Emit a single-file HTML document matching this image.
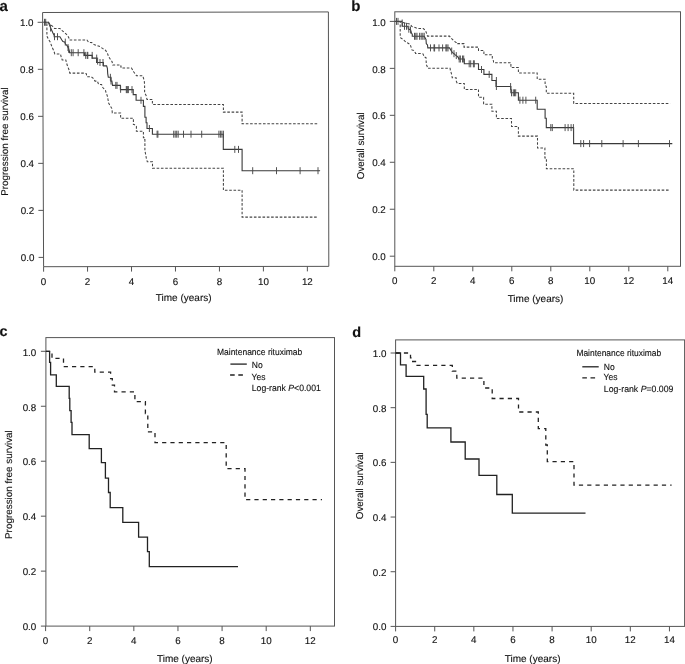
<!DOCTYPE html>
<html><head><meta charset="utf-8"><style>
html,body{margin:0;padding:0;background:#fff;width:685px;height:664px;overflow:hidden}
svg{filter:grayscale(100%)}
text{font-family:"Liberation Sans", sans-serif;stroke:#111;stroke-width:0.12px;text-rendering:geometricPrecision}
</style></head><body>
<svg width="685" height="664" viewBox="0 0 685 664" style="display:block">
<rect width="685" height="664" fill="#fff"/>
<g font-family='"Liberation Sans", sans-serif'>
<path d="M42.6 12.5L328.4 11.93L328.8 266.36L43.6 266.7Z" fill="none" stroke="#555" stroke-width="1"/>
<line x1="38.58" y1="257.4" x2="43.58" y2="257.4" stroke="#555" stroke-width="1"/>
<text x="34.47" y="261.3" font-size="9.8" text-anchor="end" fill="#111">0.0</text>
<line x1="38.39" y1="210.38" x2="43.39" y2="210.38" stroke="#555" stroke-width="1"/>
<text x="34.28" y="214.28" font-size="9.8" text-anchor="end" fill="#111">0.2</text>
<line x1="38.2" y1="163.36" x2="43.2" y2="163.36" stroke="#555" stroke-width="1"/>
<text x="34.09" y="167.26" font-size="9.8" text-anchor="end" fill="#111">0.4</text>
<line x1="38.02" y1="116.34" x2="43.02" y2="116.34" stroke="#555" stroke-width="1"/>
<text x="33.91" y="120.24" font-size="9.8" text-anchor="end" fill="#111">0.6</text>
<line x1="37.83" y1="69.32" x2="42.83" y2="69.32" stroke="#555" stroke-width="1"/>
<text x="33.72" y="73.22" font-size="9.8" text-anchor="end" fill="#111">0.8</text>
<line x1="37.64" y1="22.3" x2="42.64" y2="22.3" stroke="#555" stroke-width="1"/>
<text x="33.53" y="26.2" font-size="9.8" text-anchor="end" fill="#111">1.0</text>
<line x1="43.6" y1="266.7" x2="43.6" y2="271.7" stroke="#555" stroke-width="1"/>
<text x="43.6" y="284.7" font-size="9.8" text-anchor="middle" fill="#111">0</text>
<line x1="87.56" y1="266.64" x2="87.56" y2="271.64" stroke="#555" stroke-width="1"/>
<text x="87.56" y="284.7" font-size="9.8" text-anchor="middle" fill="#111">2</text>
<line x1="131.52" y1="266.59" x2="131.52" y2="271.59" stroke="#555" stroke-width="1"/>
<text x="131.52" y="284.7" font-size="9.8" text-anchor="middle" fill="#111">4</text>
<line x1="175.48" y1="266.54" x2="175.48" y2="271.54" stroke="#555" stroke-width="1"/>
<text x="175.48" y="284.7" font-size="9.8" text-anchor="middle" fill="#111">6</text>
<line x1="219.44" y1="266.49" x2="219.44" y2="271.49" stroke="#555" stroke-width="1"/>
<text x="219.44" y="284.7" font-size="9.8" text-anchor="middle" fill="#111">8</text>
<line x1="263.4" y1="266.43" x2="263.4" y2="271.43" stroke="#555" stroke-width="1"/>
<text x="263.4" y="284.7" font-size="9.8" text-anchor="middle" fill="#111">10</text>
<line x1="307.36" y1="266.38" x2="307.36" y2="271.38" stroke="#555" stroke-width="1"/>
<text x="307.36" y="284.7" font-size="9.8" text-anchor="middle" fill="#111">12</text>
<text x="183.7" y="301.3" font-size="10" text-anchor="middle" font-weight="normal" fill="#111">Time (years)</text>
<text transform="translate(7.9 141.55) rotate(-90)" x="0" y="0" font-size="9.8" text-anchor="middle" fill="#111" textLength="108.5" lengthAdjust="spacingAndGlyphs">Progression free survival</text>
<text x="-0.4" y="10.7" font-size="15" text-anchor="start" font-weight="bold" fill="#111">a</text>
<path d="M43.6 22.3H48.4L50.5 27.6L52.7 32.5L54.2 35.5V36.7H59.9L61.7 39.7L62.9 41.5L64.6 41.9L65.5 44.2L67.1 45.7L68.6 48.5L69.5 51.5V52.7H84.4V55.4H92.2V58.1H96.6V62.5H103.4V65.9H106.6L107.4 68.3L107.7 73.6L108.3 77.3H110.9V81.1H111.9L112.5 85.4H120.4V89.6H133.2V94.6H136.1V100.3H143.4V106.4H144.9V117.2H146.1V122.7H147V128.5H152.4V134.2H223.3V149.4H242.1V170.7H320.1" fill="none" stroke="#3a3a3a" stroke-width="1.1" stroke-linecap="butt" stroke-linejoin="miter"/>
<path d="M44.5 18.8V25.8M45.7 18.8V25.8M50.5 24.5V31.5M54.5 33.2V40.2M57.5 33.2V40.2M65.3 38.6V45.6M68 44V51M68.6 45.8V52.8M71.3 49.2V56.2M73.1 49.2V56.2M78.2 49.2V56.2M83.9 49.2V56.2M85.7 51.9V58.9M87.3 51.9V58.9M87.8 51.9V58.9M92.2 51.9V58.9M96.7 54.6V61.6M97.6 57.6V64.6M100 59V66M103 59V66M110.4 73.8V80.8M111 77.5V84.5M115.8 81.9V88.9M117 81.9V88.9M120.6 85.8V92.8M126.3 86.1V93.1M126.9 86.1V93.1M127.8 86.1V93.1M128.3 86.1V93.1M132 86.1V93.1M141 96.8V103.8M149.4 125V132M157.1 130.7V137.7M157.9 130.7V137.7M173.7 130.7V137.7M175.2 130.7V137.7M176.7 130.7V137.7M178.2 130.7V137.7M183.5 130.7V137.7M191 130.7V137.7M201.7 130.7V137.7M218.9 130.7V137.7M220.4 130.7V137.7M221.9 130.7V137.7M223.4 130.7V137.7M234.8 145.9V152.9M238.5 145.9V152.9M252.7 167.2V174.2M276.5 167.2V174.2M300.1 167.2V174.2M318 167.2V174.2" stroke="#4a4a4a" stroke-width="0.95" fill="none"/>
<path d="M43.6 22.3H48.4L50.5 24.6L52.7 26.4L54.5 28.4H59.9L61.7 30.3L64.1 32.2L66.5 34.3L68.3 36.7L69.5 39.1V40H86.9L88.7 42.4H91.6L94 44.5L100 46.6L102.5 48.4L105.5 50.2L107.3 53L108.5 56.3L110.3 59.3L112.1 61.7L112.7 65H120V66H121V68H131.5L133.8 72L136.5 75.8H142.8L144.3 81.1L144.6 85V92.8L146.1 95.5L147 99.4H152.4V104.5H223.4V112.1H242.1V123.7H318" fill="none" stroke="#444" stroke-width="1.05" stroke-linecap="butt" stroke-linejoin="miter" stroke-dasharray="2.6 1.7"/>
<path d="M43.6 22.3H46.9V36.1L48.4 39.1L50.2 42.1L52 46.9L53.9 51.1L54.8 54H60.5L61 56.3L62.2 59.9H65.8L66.7 63.5L67.7 66.5L68.9 69.5L69.8 73.1H84.5L86.3 73.7L86.9 76.7H91.1L93 78L95 81.1H97.4L98.6 84.5H101.6L102.8 87.5L105.5 90.5L106.1 92.9L107.3 95.9L108 99.5L108.6 103.1L110.1 105.5L111.9 108.6L112.3 112.9H120.6V118.3H133.4V124.5H134.3L136.4 126.3V131.3H143.4V137.7H144.6V139.5H144.9V150.5L146.3 158.1L147.3 161.8H152.5V168.2H223.4V190.2H242.1V217.1H318" fill="none" stroke="#444" stroke-width="1.05" stroke-linecap="butt" stroke-linejoin="miter" stroke-dasharray="2.6 1.7"/>
<rect x="394.8" y="11.8" width="285.7" height="254.5" fill="none" stroke="#555" stroke-width="1"/>
<line x1="389.8" y1="256.2" x2="394.8" y2="256.2" stroke="#555" stroke-width="1"/>
<text x="385.8" y="260.35" font-size="9.8" text-anchor="end" fill="#111">0.0</text>
<line x1="389.8" y1="209.24" x2="394.8" y2="209.24" stroke="#555" stroke-width="1"/>
<text x="385.8" y="213.39" font-size="9.8" text-anchor="end" fill="#111">0.2</text>
<line x1="389.8" y1="162.28" x2="394.8" y2="162.28" stroke="#555" stroke-width="1"/>
<text x="385.8" y="166.43" font-size="9.8" text-anchor="end" fill="#111">0.4</text>
<line x1="389.8" y1="115.32" x2="394.8" y2="115.32" stroke="#555" stroke-width="1"/>
<text x="385.8" y="119.47" font-size="9.8" text-anchor="end" fill="#111">0.6</text>
<line x1="389.8" y1="68.36" x2="394.8" y2="68.36" stroke="#555" stroke-width="1"/>
<text x="385.8" y="72.51" font-size="9.8" text-anchor="end" fill="#111">0.8</text>
<line x1="389.8" y1="21.4" x2="394.8" y2="21.4" stroke="#555" stroke-width="1"/>
<text x="385.8" y="25.55" font-size="9.8" text-anchor="end" fill="#111">1.0</text>
<line x1="394.8" y1="266.3" x2="394.8" y2="271.3" stroke="#555" stroke-width="1"/>
<text x="394.8" y="284.3" font-size="9.8" text-anchor="middle" fill="#111">0</text>
<line x1="433.8" y1="266.3" x2="433.8" y2="271.3" stroke="#555" stroke-width="1"/>
<text x="433.8" y="284.3" font-size="9.8" text-anchor="middle" fill="#111">2</text>
<line x1="472.8" y1="266.3" x2="472.8" y2="271.3" stroke="#555" stroke-width="1"/>
<text x="472.8" y="284.3" font-size="9.8" text-anchor="middle" fill="#111">4</text>
<line x1="511.8" y1="266.3" x2="511.8" y2="271.3" stroke="#555" stroke-width="1"/>
<text x="511.8" y="284.3" font-size="9.8" text-anchor="middle" fill="#111">6</text>
<line x1="550.8" y1="266.3" x2="550.8" y2="271.3" stroke="#555" stroke-width="1"/>
<text x="550.8" y="284.3" font-size="9.8" text-anchor="middle" fill="#111">8</text>
<line x1="589.8" y1="266.3" x2="589.8" y2="271.3" stroke="#555" stroke-width="1"/>
<text x="589.8" y="284.3" font-size="9.8" text-anchor="middle" fill="#111">10</text>
<line x1="628.8" y1="266.3" x2="628.8" y2="271.3" stroke="#555" stroke-width="1"/>
<text x="628.8" y="284.3" font-size="9.8" text-anchor="middle" fill="#111">12</text>
<line x1="667.8" y1="266.3" x2="667.8" y2="271.3" stroke="#555" stroke-width="1"/>
<text x="667.8" y="284.3" font-size="9.8" text-anchor="middle" fill="#111">14</text>
<text x="535.5" y="301.5" font-size="10" text-anchor="middle" font-weight="normal" fill="#111">Time (years)</text>
<text transform="translate(364.1 145.8) rotate(-90)" x="0" y="0" font-size="10" text-anchor="middle" fill="#111" textLength="66.8" lengthAdjust="spacingAndGlyphs">Overall survival</text>
<text x="351.3" y="10.7" font-size="15" text-anchor="start" font-weight="bold" fill="#111">b</text>
<path d="M394.8 21.4H401.8L402.3 23.2V26.3H407.9L408.3 29L410.5 29.7L411.5 33L412.3 34.5V36.3H424.2L426 39.5L426.3 43.7L427.5 44.9L427.8 47.9H449.5L451.3 50.9L452.5 52.7L454.3 53.9L455.5 55.1L457.3 56.3L458.6 58V59H464.3V63.8H478.5V69.5H483.9V74.4H491.9V80.5H496V86.5H510.9V92.8H518.4V100.2H537.2V109.3H545.1V118.3H546.3V127.6H573.6V143.6H672.3" fill="none" stroke="#3a3a3a" stroke-width="1.1" stroke-linecap="butt" stroke-linejoin="miter"/>
<path d="M396.5 17.9V24.9M398 17.9V24.9M402.2 19.5V26.5M404.5 22.8V29.8M406.5 22.8V29.8M408.8 25.7V32.7M410.5 26.5V33.5M414.5 32.8V39.8M415.8 32.8V39.8M417 32.8V39.8M419.6 32.8V39.8M421.2 32.8V39.8M422.8 32.8V39.8M424.2 32.8V39.8M430.5 44.4V51.4M434 44.4V51.4M434.6 44.4V51.4M439 44.4V51.4M442.6 44.4V51.4M445.9 44.4V51.4M446.8 44.4V51.4M448 44.4V51.4M451.7 47.5V54.5M454 50.2V57.2M456.3 52.1V59.1M459.2 55.5V62.5M460.4 55.5V62.5M462.5 55.5V62.5M463.7 55.5V62.5M469.2 60.3V67.3M470.7 60.3V67.3M473.4 60.3V67.3M474.3 60.3V67.3M481.5 66V73M489.2 70.9V77.9M496.4 77V84M496.4 83V90M510.6 83V90M511.5 89.3V96.3M513.3 89.3V96.3M514.5 89.3V96.3M515.7 89.3V96.3M519.9 96.7V103.7M522.9 96.7V103.7M525.9 96.7V103.7M535.7 96.7V103.7M550.8 124.1V131.1M552.3 124.1V131.1M565.1 124.1V131.1M568.1 124.1V131.1M571.1 124.1V131.1M573.4 124.1V131.1M580.8 140.1V147.1M583.6 140.1V147.1M589.6 140.1V147.1M601.8 140.1V147.1M623.1 140.1V147.1M638.4 140.1V147.1M669.5 140.1V147.1" stroke="#4a4a4a" stroke-width="0.95" fill="none"/>
<path d="M394.8 21.4H401.8L403.2 22.5L406.5 23.4L410.1 24L411.9 26.5L415.2 27.6L417.7 28.5H423.3L425.4 30.4L426.6 33.4L427.5 36.1H449.5L451.3 38.3L453.7 40.7L456.2 42.6V43.6H464V47.1H478.5V50.4H483.9V54.8H492.3V58.1L493.5 61V62.7H510.9V67.5H518.4V73H537.2V79.2H545.1V85.2L546.3 86.5V93.2H573.7V103.5H670.1" fill="none" stroke="#444" stroke-width="1.05" stroke-linecap="butt" stroke-linejoin="miter" stroke-dasharray="2.6 1.7"/>
<path d="M394.8 21.4H400.2V36.2L400.7 38L402.9 39.1L405.3 41.5L407.7 43L410.1 44.5L411 46.9L411.9 49.9L413.7 50.5L415.5 53V53.4H420L423 53.9L424.2 56.9L426 57.7L426.3 64.6L427.2 66.4L427.5 68.3H450.1L450.4 70.7L451.3 73.1L452.2 77.5V77.8H456.1L456.4 81.5L457.3 83.4H464.3V89.4H478.5V97.3H483.6V104.2H491.9V111.3H496.4V118.4H511.5V126.5H518.4V136.1H537.5V148H544.9V158H546.4V168.8H573.8V190.1H670.1" fill="none" stroke="#444" stroke-width="1.05" stroke-linecap="butt" stroke-linejoin="miter" stroke-dasharray="2.6 1.7"/>
<rect x="45.9" y="337.6" width="288.6" height="288.5" fill="none" stroke="#555" stroke-width="1"/>
<line x1="40.9" y1="626.1" x2="45.9" y2="626.1" stroke="#555" stroke-width="1"/>
<text x="36.3" y="630.35" font-size="9.8" text-anchor="end" fill="#111">0.0</text>
<line x1="40.9" y1="571.14" x2="45.9" y2="571.14" stroke="#555" stroke-width="1"/>
<text x="36.3" y="575.39" font-size="9.8" text-anchor="end" fill="#111">0.2</text>
<line x1="40.9" y1="516.18" x2="45.9" y2="516.18" stroke="#555" stroke-width="1"/>
<text x="36.3" y="520.43" font-size="9.8" text-anchor="end" fill="#111">0.4</text>
<line x1="40.9" y1="461.22" x2="45.9" y2="461.22" stroke="#555" stroke-width="1"/>
<text x="36.3" y="465.47" font-size="9.8" text-anchor="end" fill="#111">0.6</text>
<line x1="40.9" y1="406.26" x2="45.9" y2="406.26" stroke="#555" stroke-width="1"/>
<text x="36.3" y="410.51" font-size="9.8" text-anchor="end" fill="#111">0.8</text>
<line x1="40.9" y1="351.3" x2="45.9" y2="351.3" stroke="#555" stroke-width="1"/>
<text x="36.3" y="355.55" font-size="9.8" text-anchor="end" fill="#111">1.0</text>
<line x1="45.6" y1="626.1" x2="45.6" y2="631.1" stroke="#555" stroke-width="1"/>
<text x="45.6" y="643.6" font-size="9.8" text-anchor="middle" fill="#111">0</text>
<line x1="89.72" y1="626.1" x2="89.72" y2="631.1" stroke="#555" stroke-width="1"/>
<text x="89.72" y="643.6" font-size="9.8" text-anchor="middle" fill="#111">2</text>
<line x1="133.84" y1="626.1" x2="133.84" y2="631.1" stroke="#555" stroke-width="1"/>
<text x="133.84" y="643.6" font-size="9.8" text-anchor="middle" fill="#111">4</text>
<line x1="177.96" y1="626.1" x2="177.96" y2="631.1" stroke="#555" stroke-width="1"/>
<text x="177.96" y="643.6" font-size="9.8" text-anchor="middle" fill="#111">6</text>
<line x1="222.08" y1="626.1" x2="222.08" y2="631.1" stroke="#555" stroke-width="1"/>
<text x="222.08" y="643.6" font-size="9.8" text-anchor="middle" fill="#111">8</text>
<line x1="266.2" y1="626.1" x2="266.2" y2="631.1" stroke="#555" stroke-width="1"/>
<text x="266.2" y="643.6" font-size="9.8" text-anchor="middle" fill="#111">10</text>
<line x1="310.32" y1="626.1" x2="310.32" y2="631.1" stroke="#555" stroke-width="1"/>
<text x="310.32" y="643.6" font-size="9.8" text-anchor="middle" fill="#111">12</text>
<text x="184.8" y="661.6" font-size="10" text-anchor="middle" font-weight="normal" fill="#111">Time (years)</text>
<text transform="translate(11.9 484.6) rotate(-90)" x="0" y="0" font-size="9.8" text-anchor="middle" fill="#111" textLength="108.8" lengthAdjust="spacingAndGlyphs">Progression free survival</text>
<text x="-0.5" y="335.8" font-size="14.5" text-anchor="start" font-weight="bold" fill="#111">c</text>
<path d="M45.9 351.3H49.6V362.3H50.6V374.9H56.3V386.4H69.2V398.4H69.8V410.6H71.1V422.3H72.0V434.6H89.2V448.6H101.4V462.7H105.4V478.2H108.5V492.5H110.2V507.6H122.8V522.3H138.6V537.1H147.5V551.6H149.3V566.7H238.0" fill="none" stroke="#222" stroke-width="1.3" stroke-linecap="butt" stroke-linejoin="miter"/>
<path d="M45.9 351.3H52.0V358.4H63.5V366.7H94.8V372.2H110.6V378.7H112.3V385.1H114.5V391.9H134.9V401.6H145.4V413.5H147.8V431.9H155.0V442.6H226.2V468.6H245.0V499.7H322.0" fill="none" stroke="#222" stroke-width="1.3" stroke-linecap="butt" stroke-linejoin="miter" stroke-dasharray="4.2 4.1"/>
<text x="217" y="355.1" font-size="9.1" text-anchor="start" font-weight="normal" fill="#111" textLength="85.3" lengthAdjust="spacingAndGlyphs">Maintenance rituximab</text>
<line x1="230.4" y1="364.1" x2="246.8" y2="364.1" stroke="#222" stroke-width="1.3"/>
<line x1="230.1" y1="375" x2="243.3" y2="375" stroke="#222" stroke-width="1.3" stroke-dasharray="4.6 3.6"/>
<text x="251.8" y="367.8" font-size="9.1" text-anchor="start" font-weight="normal" fill="#111" textLength="10.9" lengthAdjust="spacingAndGlyphs">No</text>
<text x="251.6" y="379.6" font-size="9.1" text-anchor="start" font-weight="normal" fill="#111" textLength="13.9" lengthAdjust="spacingAndGlyphs">Yes</text>
<text x="251.8" y="390.6" font-size="9.1" text-anchor="start" font-weight="normal" fill="#111" textLength="69" lengthAdjust="spacingAndGlyphs">Log-rank <tspan font-style="italic">P</tspan>&lt;0.001</text>
<rect x="395.6" y="339.9" width="289" height="286.5" fill="none" stroke="#555" stroke-width="1"/>
<line x1="390.6" y1="626.4" x2="395.6" y2="626.4" stroke="#555" stroke-width="1"/>
<text x="386.4" y="630.25" font-size="9.8" text-anchor="end" fill="#111">0.0</text>
<line x1="390.6" y1="571.72" x2="395.6" y2="571.72" stroke="#555" stroke-width="1"/>
<text x="386.4" y="575.57" font-size="9.8" text-anchor="end" fill="#111">0.2</text>
<line x1="390.6" y1="517.04" x2="395.6" y2="517.04" stroke="#555" stroke-width="1"/>
<text x="386.4" y="520.89" font-size="9.8" text-anchor="end" fill="#111">0.4</text>
<line x1="390.6" y1="462.36" x2="395.6" y2="462.36" stroke="#555" stroke-width="1"/>
<text x="386.4" y="466.21" font-size="9.8" text-anchor="end" fill="#111">0.6</text>
<line x1="390.6" y1="407.68" x2="395.6" y2="407.68" stroke="#555" stroke-width="1"/>
<text x="386.4" y="411.53" font-size="9.8" text-anchor="end" fill="#111">0.8</text>
<line x1="390.6" y1="353" x2="395.6" y2="353" stroke="#555" stroke-width="1"/>
<text x="386.4" y="356.85" font-size="9.8" text-anchor="end" fill="#111">1.0</text>
<line x1="395.6" y1="626.4" x2="395.6" y2="631.4" stroke="#555" stroke-width="1"/>
<text x="395.6" y="642.9" font-size="9.8" text-anchor="middle" fill="#111">0</text>
<line x1="434.72" y1="626.4" x2="434.72" y2="631.4" stroke="#555" stroke-width="1"/>
<text x="434.72" y="642.9" font-size="9.8" text-anchor="middle" fill="#111">2</text>
<line x1="473.84" y1="626.4" x2="473.84" y2="631.4" stroke="#555" stroke-width="1"/>
<text x="473.84" y="642.9" font-size="9.8" text-anchor="middle" fill="#111">4</text>
<line x1="512.96" y1="626.4" x2="512.96" y2="631.4" stroke="#555" stroke-width="1"/>
<text x="512.96" y="642.9" font-size="9.8" text-anchor="middle" fill="#111">6</text>
<line x1="552.08" y1="626.4" x2="552.08" y2="631.4" stroke="#555" stroke-width="1"/>
<text x="552.08" y="642.9" font-size="9.8" text-anchor="middle" fill="#111">8</text>
<line x1="591.2" y1="626.4" x2="591.2" y2="631.4" stroke="#555" stroke-width="1"/>
<text x="591.2" y="642.9" font-size="9.8" text-anchor="middle" fill="#111">10</text>
<line x1="630.32" y1="626.4" x2="630.32" y2="631.4" stroke="#555" stroke-width="1"/>
<text x="630.32" y="642.9" font-size="9.8" text-anchor="middle" fill="#111">12</text>
<line x1="669.44" y1="626.4" x2="669.44" y2="631.4" stroke="#555" stroke-width="1"/>
<text x="669.44" y="642.9" font-size="9.8" text-anchor="middle" fill="#111">14</text>
<text x="532.6" y="662.1" font-size="10" text-anchor="middle" font-weight="normal" fill="#111">Time (years)</text>
<text transform="translate(363.2 485.8) rotate(-90)" x="0" y="0" font-size="10" text-anchor="middle" fill="#111" textLength="66.8" lengthAdjust="spacingAndGlyphs">Overall survival</text>
<text x="352.3" y="337.2" font-size="14.5" text-anchor="start" font-weight="bold" fill="#111">d</text>
<path d="M395.6 353.0H400.5V364.9H406.1V376.4H423.7V389.0H426.1V414.3H427.2V427.9H450.9V442.0H465.2V459.0H479.0V475.3H496.8V494.5H512.3V513.2H585.5" fill="none" stroke="#222" stroke-width="1.3" stroke-linecap="butt" stroke-linejoin="miter"/>
<path d="M395.6 353.0H410.5V357.8H412.0V361.5H415.5V365.4H452.3V371.1H456.8V378.2H483.9V388.0H492.2V398.5H518.5V412.0H538.3V428.6H545.8V445H547.3V461.7H574.0V485.1H671.6" fill="none" stroke="#222" stroke-width="1.3" stroke-linecap="butt" stroke-linejoin="miter" stroke-dasharray="4.2 4.1"/>
<text x="576.4" y="356" font-size="9.1" text-anchor="start" font-weight="normal" fill="#111" textLength="84.8" lengthAdjust="spacingAndGlyphs">Maintenance rituximab</text>
<line x1="582.3" y1="366.8" x2="598.7" y2="366.8" stroke="#222" stroke-width="1.3"/>
<line x1="582.3" y1="377.8" x2="595.5" y2="377.8" stroke="#222" stroke-width="1.3" stroke-dasharray="4.6 3.6"/>
<text x="603.8" y="369.6" font-size="9.1" text-anchor="start" font-weight="normal" fill="#111" textLength="10.9" lengthAdjust="spacingAndGlyphs">No</text>
<text x="603.6" y="380" font-size="9.1" text-anchor="start" font-weight="normal" fill="#111" textLength="13.9" lengthAdjust="spacingAndGlyphs">Yes</text>
<text x="603.8" y="391.7" font-size="9.1" text-anchor="start" font-weight="normal" fill="#111" textLength="69.6" lengthAdjust="spacingAndGlyphs">Log-rank <tspan font-style="italic">P</tspan>=0.009</text>
</g></svg>
</body></html>
